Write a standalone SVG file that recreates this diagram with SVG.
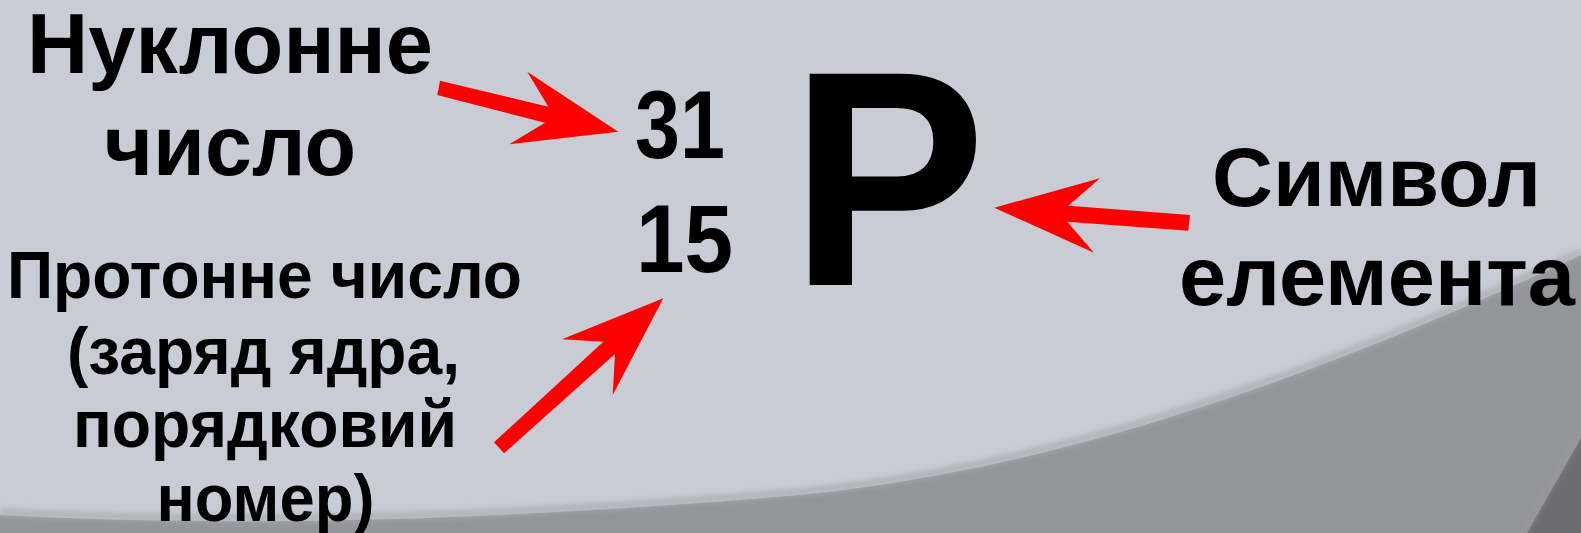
<svg xmlns="http://www.w3.org/2000/svg" width="1581" height="533" viewBox="0 0 1581 533">
  <defs>
    <style>
      .t { font-family: "Liberation Sans", Arial, sans-serif; font-weight: bold; fill: #000; }
      .arrow { fill: #ff0000; }
    </style>
    <filter id="blur" x="-10%" y="-50%" width="120%" height="200%">
      <feGaussianBlur stdDeviation="3"/>
    </filter>
  </defs>
  <g id="background">
    <rect x="0" y="0" width="1581" height="533" fill="#c9ccd4"/>
    <path d="M0,515 C250,528 500,520 800,495 C1050,470 1300,385 1581,255 L1581,533 L0,533 Z" fill="#949599"/>
    <path d="M0,512 C250,525 500,517 800,492 C1050,467 1300,382 1581,252" fill="none" stroke="#a9abb1" stroke-width="6" filter="url(#blur)"/>
    <path d="M1527,533 Q1556,482 1581,438 L1581,533 Z" fill="#6d6d6f"/>
    <path d="M1524,533 Q1553,482 1578,438" fill="none" stroke="#9a9b9f" stroke-width="3" filter="url(#blur)"/>
  </g>
  <g id="node-nuclon">
    <text class="t" x="230" y="73" font-size="85" text-anchor="middle" textLength="406" lengthAdjust="spacingAndGlyphs">Нуклонне</text>
    <text class="t" x="230" y="175" font-size="85" text-anchor="middle" textLength="252" lengthAdjust="spacingAndGlyphs">число</text>
  </g>
  <g id="node-mass">
    <text class="t" x="635" y="158" font-size="97" textLength="90" lengthAdjust="spacingAndGlyphs">31</text>
  </g>
  <g id="node-atomic">
    <text class="t" x="636" y="272" font-size="97" textLength="97" lengthAdjust="spacingAndGlyphs">15</text>
  </g>
  <g id="node-symbol">
    <text class="t" x="790" y="285" font-size="307" textLength="196" lengthAdjust="spacingAndGlyphs">P</text>
  </g>
  <g id="node-symbol-label">
    <text class="t" x="1376.5" y="206" font-size="84" text-anchor="middle" textLength="329" lengthAdjust="spacingAndGlyphs">Символ</text>
    <text class="t" x="1377" y="305" font-size="84" text-anchor="middle" textLength="396" lengthAdjust="spacingAndGlyphs">елемента</text>
  </g>
  <g id="node-proton">
    <text class="t" x="264.5" y="298" font-size="67" text-anchor="middle" textLength="515" lengthAdjust="spacingAndGlyphs">Протонне число</text>
    <text class="t" x="263.5" y="374" font-size="67" text-anchor="middle" textLength="393" lengthAdjust="spacingAndGlyphs">(заряд ядра,</text>
    <text class="t" x="265" y="447" font-size="67" text-anchor="middle" textLength="384" lengthAdjust="spacingAndGlyphs">порядковий</text>
    <text class="t" x="265.5" y="521" font-size="67" text-anchor="middle" textLength="218" lengthAdjust="spacingAndGlyphs">номер)</text>
  </g>
  <g id="connectors">
    <polygon class="arrow" points="440,80.7 548.3,106.7 527.3,71.7 618.3,131.7 509.3,144.3 545,122.7 437.3,95"/>
    <polygon class="arrow" points="663.3,298.3 562,339.3 603.3,341.7 494,442.3 504,453.3 615,354 612.7,395"/>
    <polygon class="arrow" points="994.3,207.7 1100,178.3 1068.3,205.7 1190,215 1188.3,230.7 1067.3,221.7 1094,252.7"/>
  </g>
</svg>
